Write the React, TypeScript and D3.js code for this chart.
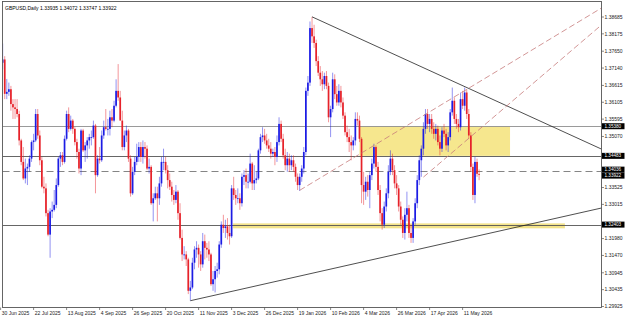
import React from "react";
import * as d3 from "d3";

type OHLC = [number, number, number, number];

const title = "GBPUSD,Daily 1.33935 1.34072 1.33747 1.33922";

const jun2025: OHLC[] = [[1.3715, 1.375, 1.37, 1.373]];
const jul2025: OHLC[] = [
  [1.373, 1.3788, 1.371, 1.374], [1.374, 1.375, 1.362, 1.3636], [1.3636, 1.3681, 1.362, 1.3642],
  [1.3642, 1.367, 1.363, 1.365], [1.365, 1.366, 1.3585, 1.3605], [1.3605, 1.362, 1.356, 1.3595],
  [1.3595, 1.362, 1.356, 1.359], [1.359, 1.362, 1.3565, 1.3575], [1.3575, 1.3585, 1.348, 1.3495],
  [1.3495, 1.35, 1.342, 1.343], [1.343, 1.3475, 1.3375, 1.338], [1.338, 1.344, 1.3365, 1.341],
  [1.341, 1.3425, 1.336, 1.3415], [1.3415, 1.345, 1.34, 1.344], [1.344, 1.3495, 1.343, 1.349],
  [1.349, 1.3515, 1.3465, 1.3495], [1.3495, 1.359, 1.349, 1.3575], [1.3575, 1.359, 1.35, 1.351],
  [1.351, 1.3525, 1.342, 1.3435], [1.3435, 1.3445, 1.335, 1.3355], [1.3355, 1.3385, 1.3335, 1.335],
  [1.335, 1.3365, 1.3265, 1.3275], [1.3275, 1.3285, 1.3205, 1.321],
];
const aug2025: OHLC[] = [
  [1.321, 1.329, 1.314, 1.328], [1.328, 1.331, 1.326, 1.3285], [1.3285, 1.3345, 1.328, 1.33],
  [1.33, 1.338, 1.329, 1.336], [1.336, 1.3445, 1.3355, 1.344], [1.344, 1.346, 1.3415, 1.345],
  [1.345, 1.346, 1.342, 1.343], [1.343, 1.351, 1.3425, 1.35], [1.35, 1.3585, 1.3495, 1.3575],
  [1.3575, 1.3595, 1.352, 1.353], [1.353, 1.357, 1.3525, 1.3555], [1.3555, 1.356, 1.3515, 1.353],
  [1.353, 1.3535, 1.348, 1.349], [1.349, 1.35, 1.344, 1.346], [1.346, 1.347, 1.3395, 1.341],
  [1.341, 1.353, 1.339, 1.3525], [1.3525, 1.353, 1.346, 1.3465], [1.3465, 1.349, 1.343, 1.348],
  [1.348, 1.3505, 1.344, 1.3495], [1.3495, 1.3515, 1.347, 1.3505], [1.3505, 1.3525, 1.348, 1.3505],
];
const sep2025: OHLC[] = [
  [1.3505, 1.3555, 1.35, 1.354], [1.354, 1.3545, 1.3335, 1.339], [1.339, 1.345, 1.3385, 1.344],
  [1.344, 1.3475, 1.3425, 1.3435], [1.3435, 1.3525, 1.343, 1.351], [1.351, 1.3555, 1.35, 1.3535],
  [1.3535, 1.359, 1.3525, 1.353], [1.353, 1.356, 1.351, 1.353], [1.353, 1.3585, 1.351, 1.3565],
  [1.3565, 1.359, 1.3535, 1.3555], [1.3555, 1.3615, 1.355, 1.36], [1.36, 1.368, 1.3595, 1.3645],
  [1.3645, 1.3726, 1.3615, 1.3625], [1.3625, 1.3645, 1.356, 1.3555], [1.3555, 1.3585, 1.3465, 1.3475],
  [1.3475, 1.3525, 1.3465, 1.351], [1.351, 1.354, 1.349, 1.3525], [1.3525, 1.353, 1.343, 1.344],
  [1.344, 1.345, 1.3325, 1.3335], [1.3335, 1.3415, 1.333, 1.34], [1.34, 1.3445, 1.339, 1.343],
  [1.343, 1.3485, 1.342, 1.3445],
];
const oct2025: OHLC[] = [
  [1.3445, 1.349, 1.343, 1.3475], [1.3475, 1.349, 1.343, 1.3445], [1.3445, 1.3495, 1.3425, 1.3475],
  [1.3475, 1.349, 1.344, 1.347], [1.347, 1.348, 1.3405, 1.341], [1.341, 1.344, 1.3395, 1.3415],
  [1.3415, 1.342, 1.33, 1.3305], [1.3305, 1.3335, 1.325, 1.332], [1.332, 1.3355, 1.3315, 1.3335],
  [1.3335, 1.3355, 1.325, 1.332], [1.332, 1.3385, 1.33, 1.3365], [1.3365, 1.3445, 1.3355, 1.343],
  [1.343, 1.347, 1.3405, 1.343], [1.343, 1.3445, 1.3395, 1.3405], [1.3405, 1.342, 1.335, 1.3375],
  [1.3375, 1.3395, 1.3345, 1.3355], [1.3355, 1.337, 1.331, 1.333], [1.333, 1.3345, 1.33, 1.3315],
  [1.3315, 1.336, 1.3305, 1.334], [1.334, 1.3345, 1.3255, 1.3275], [1.3275, 1.3305, 1.3195, 1.32],
  [1.32, 1.3225, 1.313, 1.315], [1.315, 1.3175, 1.3135, 1.315],
];
const nov2025: OHLC[] = [
  [1.315, 1.316, 1.3115, 1.3135], [1.3135, 1.314, 1.303, 1.304], [1.304, 1.307, 1.301, 1.305],
  [1.305, 1.314, 1.3045, 1.3125], [1.3125, 1.3175, 1.3105, 1.3165], [1.3165, 1.319, 1.314, 1.317],
  [1.317, 1.318, 1.311, 1.315], [1.315, 1.316, 1.31, 1.312], [1.312, 1.3215, 1.311, 1.319],
  [1.319, 1.321, 1.3135, 1.317], [1.317, 1.3185, 1.314, 1.3165], [1.3165, 1.319, 1.313, 1.315],
  [1.315, 1.3155, 1.3055, 1.306], [1.306, 1.31, 1.304, 1.3075], [1.3075, 1.3115, 1.3035, 1.31],
  [1.31, 1.3125, 1.308, 1.3105], [1.3105, 1.319, 1.309, 1.318], [1.318, 1.325, 1.317, 1.324],
  [1.324, 1.327, 1.3215, 1.323], [1.323, 1.3255, 1.32, 1.3235],
];
const dec2025: OHLC[] = [
  [1.3235, 1.326, 1.3195, 1.3215], [1.3215, 1.324, 1.318, 1.3205], [1.3205, 1.336, 1.32, 1.335],
  [1.335, 1.3385, 1.3315, 1.333], [1.333, 1.3345, 1.33, 1.332], [1.332, 1.335, 1.3305, 1.332],
  [1.332, 1.3335, 1.3285, 1.3305], [1.3305, 1.3395, 1.3295, 1.3385], [1.3385, 1.3405, 1.336, 1.339],
  [1.339, 1.341, 1.335, 1.337], [1.337, 1.3395, 1.335, 1.337], [1.337, 1.3455, 1.3365, 1.3425],
  [1.3425, 1.343, 1.3345, 1.3365], [1.3365, 1.342, 1.3345, 1.3375], [1.3375, 1.34, 1.3365, 1.338],
  [1.338, 1.347, 1.3375, 1.3465], [1.3465, 1.3515, 1.3455, 1.3505], [1.3505, 1.3535, 1.349, 1.351],
  [1.351, 1.353, 1.3485, 1.3495], [1.3495, 1.3515, 1.347, 1.348], [1.348, 1.35, 1.346, 1.347],
  [1.347, 1.349, 1.344, 1.3455],
];
const jan2026: OHLC[] = [
  [1.3455, 1.347, 1.3445, 1.346], [1.346, 1.3475, 1.342, 1.3445], [1.3445, 1.351, 1.343, 1.349],
  [1.349, 1.3565, 1.348, 1.3545], [1.3545, 1.3555, 1.349, 1.35], [1.35, 1.3515, 1.344, 1.345],
  [1.345, 1.347, 1.3405, 1.342], [1.342, 1.346, 1.34, 1.344], [1.344, 1.3455, 1.34, 1.342],
  [1.342, 1.345, 1.3405, 1.3435], [1.3435, 1.345, 1.34, 1.3415], [1.3415, 1.3425, 1.337, 1.3385],
  [1.3385, 1.3395, 1.3345, 1.336], [1.336, 1.3395, 1.3342, 1.3385], [1.3385, 1.342, 1.337, 1.341],
  [1.341, 1.3475, 1.3395, 1.346], [1.346, 1.3655, 1.345, 1.3645], [1.3645, 1.369, 1.363, 1.367],
  [1.367, 1.3855, 1.366, 1.3835], [1.3835, 1.3869, 1.379, 1.381], [1.381, 1.3845, 1.3775, 1.379],
  [1.379, 1.38, 1.372, 1.3735],
];
const feb2026: OHLC[] = [
  [1.3735, 1.375, 1.369, 1.37], [1.37, 1.372, 1.366, 1.368], [1.368, 1.3705, 1.3645, 1.3665],
  [1.3665, 1.37, 1.365, 1.369], [1.369, 1.3705, 1.365, 1.366], [1.366, 1.367, 1.355, 1.3565],
  [1.3565, 1.36, 1.3505, 1.359], [1.359, 1.37, 1.358, 1.368], [1.368, 1.3695, 1.362, 1.3635],
  [1.3635, 1.366, 1.36, 1.361], [1.361, 1.3665, 1.36, 1.3645], [1.3645, 1.366, 1.3595, 1.361],
  [1.361, 1.3625, 1.356, 1.357], [1.357, 1.358, 1.351, 1.352], [1.352, 1.354, 1.349, 1.3505],
  [1.3505, 1.353, 1.346, 1.349], [1.349, 1.351, 1.3435, 1.348], [1.348, 1.3505, 1.3465, 1.3495],
  [1.3495, 1.358, 1.348, 1.356], [1.356, 1.358, 1.354, 1.3555],
];
const mar2026: OHLC[] = [
  [1.3555, 1.357, 1.349, 1.35], [1.35, 1.3505, 1.3305, 1.336], [1.336, 1.34, 1.33, 1.334],
  [1.334, 1.3385, 1.3315, 1.337], [1.337, 1.339, 1.3325, 1.3345], [1.3345, 1.34, 1.329, 1.339],
  [1.339, 1.344, 1.3375, 1.3425], [1.3425, 1.3485, 1.341, 1.3475], [1.3475, 1.348, 1.34, 1.3415],
  [1.3415, 1.343, 1.333, 1.3345], [1.3345, 1.336, 1.325, 1.3275], [1.3275, 1.329, 1.3225, 1.324],
  [1.324, 1.331, 1.323, 1.3295], [1.3295, 1.335, 1.328, 1.3335], [1.3335, 1.342, 1.332, 1.34],
  [1.34, 1.3465, 1.339, 1.344], [1.344, 1.3455, 1.339, 1.3405], [1.3405, 1.342, 1.335, 1.3365],
  [1.3365, 1.339, 1.333, 1.335], [1.335, 1.336, 1.328, 1.3295], [1.3295, 1.331, 1.324, 1.3255],
  [1.3255, 1.3265, 1.32, 1.3215],
];
const apr2026: OHLC[] = [
  [1.3215, 1.329, 1.3195, 1.327], [1.327, 1.334, 1.325, 1.329], [1.329, 1.33, 1.32, 1.3215],
  [1.3215, 1.324, 1.3185, 1.32], [1.32, 1.326, 1.3185, 1.325], [1.325, 1.332, 1.324, 1.3305],
  [1.3305, 1.339, 1.329, 1.3375], [1.3375, 1.345, 1.336, 1.3435], [1.3435, 1.348, 1.3385, 1.347],
  [1.347, 1.355, 1.345, 1.353], [1.353, 1.359, 1.3515, 1.3575], [1.3575, 1.359, 1.353, 1.3545],
  [1.3545, 1.3575, 1.352, 1.356], [1.356, 1.3575, 1.3515, 1.353], [1.353, 1.355, 1.35, 1.3515],
  [1.3515, 1.3545, 1.3495, 1.353], [1.353, 1.354, 1.348, 1.349], [1.349, 1.351, 1.345, 1.347],
  [1.347, 1.3535, 1.346, 1.3525], [1.3525, 1.3545, 1.3505, 1.3515], [1.3515, 1.353, 1.3465, 1.348],
  [1.348, 1.352, 1.346, 1.3505],
];
const may2026: OHLC[] = [
  [1.3505, 1.359, 1.3495, 1.358], [1.358, 1.3655, 1.357, 1.3615], [1.3615, 1.3625, 1.3545, 1.356],
  [1.356, 1.3575, 1.353, 1.3545], [1.3545, 1.356, 1.352, 1.3535], [1.3535, 1.364, 1.3525, 1.362],
  [1.362, 1.3645, 1.359, 1.36], [1.36, 1.3655, 1.3585, 1.364], [1.364, 1.365, 1.356, 1.3575],
  [1.3575, 1.359, 1.35, 1.351], [1.351, 1.352, 1.34, 1.3415], [1.3415, 1.3425, 1.3315, 1.333],
  [1.333, 1.3445, 1.3305, 1.343], [1.343, 1.344, 1.3385, 1.3394], [1.33935, 1.34072, 1.33747, 1.33922],
];

const dateLabels = [
  "30 Jun 2025", "22 Jul 2025", "13 Aug 2025", "4 Sep 2025", "26 Sep 2025", "20 Oct 2025",
  "11 Nov 2025", "3 Dec 2025", "26 Dec 2025", "19 Jan 2026", "10 Feb 2026", "4 Mar 2026",
  "26 Mar 2026", "17 Apr 2026", "11 May 2026",
];
const dateLabelBars = [0, 16, 32, 48, 64, 80, 96, 112, 128, 144, 160, 176, 192, 208, 224];

// visible price scale labels (those hidden behind the marked-price boxes are left out)
const priceTicks = [
  1.38685, 1.38175, 1.3765, 1.3714, 1.36615, 1.36105, 1.35595, 1.3507,
  1.33525, 1.33015, 1.3198, 1.3147, 1.30945, 1.30435, 1.29925,
];

const solidLevels = [1.3538, 1.34483, 1.32403];
const dashedLevels = [1.34036];
const markedPrices = [1.3538, 1.34483, 1.34036, 1.33922, 1.32403];

// zones: [fromBar, toBar, topPrice, bottomPrice]
const supplyZone = [174, 247, 1.3538, 1.34483];
const supportBand = [112.7, 273.6, 1.3244, 1.3229];

// trendlines: [bar1, price1, bar2, price2], extended to the right edge
const blackTrends = [
  [151, 1.3869, 232, 1.3638],
  [92, 1.301, 232, 1.3207],
];
const channelTrends = [
  [145, 1.3344, 232, 1.3672],
  [205, 1.3384, 232, 1.3528],
];

const months = [jun2025, jul2025, aug2025, sep2025, oct2025, nov2025, dec2025, jan2026, feb2026, mar2026, apr2026, may2026];
const candles: OHLC[] = months.flat();

export default function App() {
  const W = 625, H = 319;
  const L = 2.5, R = 601.5, T = 1.5, B = 307.5;
  const x = d3.scaleLinear().domain([0, 1]).range([0.6, 2.6625]);
  const y = d3.scaleLinear().domain([1.29925, 1.38685]).range([306.5, 17]);
  const bull = "#1c1ce4";
  const bear = "#e6222a";
  const font = "'Liberation Sans', Arial, sans-serif";

  const ray = (t: number[]) => {
    const [b1, p1, b2, p2] = t;
    const x1 = x(b1), y1 = y(p1), x2 = x(b2), y2 = y(p2);
    const s = (y2 - y1) / (x2 - x1);
    return { x1, y1, x2: R, y2: y1 + s * (R - x1) };
  };

  // small vertical nudges so the stacked marked-price labels stay legible
  const markOffset = (p: number) => (p === 1.34036 ? -1 : p === 1.33922 ? 1.2 : 0);

  return (
    <div style={{ position: "fixed", left: 0, top: 0, width: W, height: H, background: "#fff" }}>
      <svg width={W} height={H} style={{ display: "block" }}>
        <defs>
          <clipPath id="plotclip">
            <rect x={L} y={T} width={R - L} height={B - T} />
          </clipPath>
        </defs>
        <rect x={0} y={0} width={W} height={H} fill="#fff" />
        <g clipPath="url(#plotclip)">
          <rect x={x(supplyZone[0])} y={y(supplyZone[2])} width={x(supplyZone[1]) - x(supplyZone[0])}
            height={y(supplyZone[3]) - y(supplyZone[2])} fill="#f6e78e" />
          <rect x={x(supportBand[0])} y={y(supportBand[2])} width={x(supportBand[1]) - x(supportBand[0])}
            height={y(supportBand[3]) - y(supportBand[2])} fill="#f3e38a" />
          {solidLevels.map((p, i) => (
            <line key={"s" + i} x1={L} x2={R} y1={Math.round(y(p)) + 0.5} y2={Math.round(y(p)) + 0.5}
              stroke={i === 0 ? "#8f8f8f" : "#555"} strokeWidth={0.9} />
          ))}
          {dashedLevels.map((p, i) => (
            <line key={"d" + i} x1={L} x2={R} y1={Math.round(y(p)) + 0.5} y2={Math.round(y(p)) + 0.5}
              stroke="#777" strokeWidth={0.9} strokeDasharray="7,4" />
          ))}
          {candles.map((c, i) => {
            const [o, h, l, cl] = c;
            const col = cl >= o ? bull : bear;
            const top = y(Math.max(o, cl));
            const bh = Math.max(0.8, Math.abs(y(o) - y(cl)));
            return (
              <g key={i}>
                <line x1={x(i)} x2={x(i)} y1={y(h)} y2={y(l)} stroke={col} strokeWidth={0.8} strokeOpacity={0.6} />
                <rect x={x(i) - 0.85} y={top} width={1.7} height={bh} fill={col} />
              </g>
            );
          })}
          {blackTrends.map((t, i) => {
            const r = ray(t);
            return <line key={"b" + i} {...r} stroke="#222" strokeWidth={0.8} />;
          })}
          {channelTrends.map((t, i) => {
            const r = ray(t);
            return <line key={"c" + i} {...r} stroke="#c77b7b" strokeWidth={0.8} strokeDasharray="6,3" />;
          })}
        </g>
        <text x={5} y={9.5} fontFamily={font} fontSize={5} fill="#000">{title}</text>
        <rect x={L} y={T} width={R - L} height={B - T} fill="none" stroke="#555" strokeWidth={0.9} />
        {priceTicks.map((p, i) => (
          <g key={"pt" + i}>
            <line x1={R} x2={R + 2.5} y1={y(p)} y2={y(p)} stroke="#555" strokeWidth={0.7} />
            <text x={604.5} y={y(p) + 1.8} fontFamily={font} fontSize={5} fill="#222">{p.toFixed(5)}</text>
          </g>
        ))}
        {markedPrices.map((p, i) => (
          <g key={"mp" + i}>
            <rect x={602} y={y(p) + markOffset(p) - 3} width={22.5} height={6} fill="#000" />
            <text x={604.5} y={y(p) + markOffset(p) + 1.6} fontFamily={font} fontSize={4.6} fill="#fff">{p.toFixed(5)}</text>
          </g>
        ))}
        {dateLabels.map((d, i) => (
          <g key={"dl" + i}>
            <line x1={x(dateLabelBars[i])} x2={x(dateLabelBars[i])} y1={B} y2={B + 2.5} stroke="#555" strokeWidth={0.7} />
            <text x={x(dateLabelBars[i]) + 1.2} y={314.8} fontFamily={font} fontSize={5} fill="#222">{d}</text>
          </g>
        ))}
      </svg>
    </div>
  );
}
